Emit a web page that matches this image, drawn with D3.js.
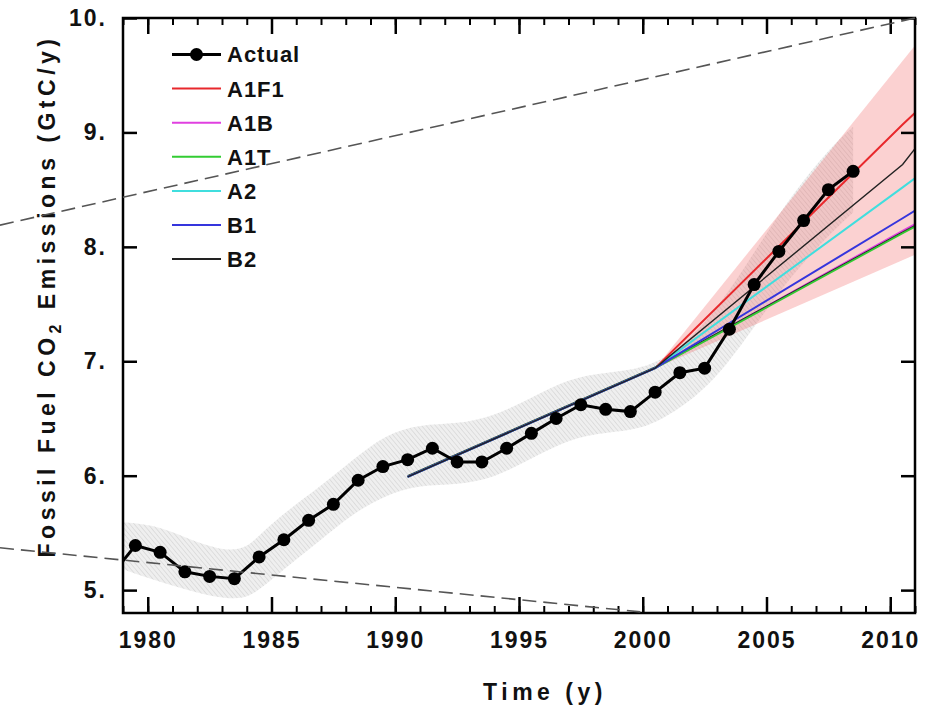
<!DOCTYPE html>
<html>
<head>
<meta charset="utf-8">
<script src="https://cdn.jsdelivr.net/npm/d3@7"></script>
<style>
body { margin: 0; background: #fff; }
text { font-family: "Liberation Sans", Arial, sans-serif; font-weight: bold; fill: #111; }
</style>
</head>
<body>
<script>
// observed emissions, plotted at mid-year
var actualYears = [1978.5, 1979.5, 1980.5, 1981.5, 1982.5, 1983.5, 1984.5, 1985.5, 1986.5, 1987.5,
    1988.5, 1989.5, 1990.5, 1991.5, 1992.5, 1993.5, 1994.5, 1995.5, 1996.5, 1997.5,
    1998.5, 1999.5, 2000.5, 2001.5, 2002.5, 2003.5, 2004.5, 2005.5, 2006.5, 2007.5, 2008.5];
var actualValues = [5.12, 5.39, 5.33, 5.16, 5.12, 5.10, 5.29, 5.44, 5.61, 5.75,
    5.96, 6.08, 6.14, 6.24, 6.12, 6.12, 6.24, 6.37, 6.50, 6.62,
    6.58, 6.56, 6.73, 6.90, 6.94, 7.28, 7.67, 7.96, 8.23, 8.50, 8.66];

// uncertainty band round the observations
var bandYears = [1978.5, 1980.2, 1981.6, 1982.9, 1983.9, 1984.5, 1985.6, 1987.0, 1988.3, 1989.6,
    1991.0, 1992.5, 1994.0, 1995.5, 1997.0, 1998.5, 2000.0, 2001.5, 2003.0, 2004.5,
    2006.0, 2007.5, 2008.5];
var bandLow = [5.22, 5.09, 5.00, 4.93, 4.92, 5.00, 5.20, 5.44, 5.67, 5.83,
    5.92, 5.92, 5.98, 6.15, 6.32, 6.38, 6.40, 6.58, 6.85, 7.30,
    7.75, 8.10, 8.30];
var bandHigh = [5.60, 5.58, 5.45, 5.35, 5.35, 5.48, 5.69, 5.91, 6.14, 6.36,
    6.45, 6.45, 6.52, 6.68, 6.85, 6.90, 6.93, 7.10, 7.45, 7.95,
    8.45, 8.85, 9.05];

// SRES scenario range
var rangeYears = [2000.5, 2011];
var rangeLow = [6.94, 7.93];
var rangeHigh = [6.94, 9.76];

var scenarioYears = [1990.5, 2000.5, 2010.5, 2020.5];
var scenarios = [
    { name: "A1F1", color: "#e8282c", width: 2, values: [5.99, 6.94, 9.07, 11.07] },
    { name: "A1B",  color: "#e040e0", width: 2, values: [5.99, 6.94, 8.14, 9.30] },
    { name: "A1T",  color: "#33cc33", width: 2, values: [5.99, 6.94, 8.12, 9.25] },
    { name: "A2",   color: "#40dede", width: 2, values: [5.99, 6.94, 8.52, 10.10] },
    { name: "B1",   color: "#3535dd", width: 2, values: [5.99, 6.94, 8.25, 9.57] },
    { name: "B2",   color: "#222222", width: 1.4, values: [5.99, 6.94, 8.72, 11.50] }
];

// the two dashed guide lines
var guideUpper = [[1974.03, 8.19], [2011, 10.0]];
var guideLower = [[1974.03, 5.37], [1999.9, 4.81]];

var majorYears = [1980, 1985, 1990, 1995, 2000, 2005, 2010];
var minorYears = d3.range(1979, 2012);
var yTicks = [5, 6, 7, 8, 9, 10];

var W = 940, H = 714;
var plot = { left: 123, right: 915, top: 18, bottom: 613 };

var x = d3.scaleLinear().domain([1979, 2011]).range([plot.left, plot.right]);
var y = d3.scaleLinear().domain([4.8, 10.0]).range([plot.bottom, plot.top]);

var svg = d3.select("body").append("svg")
    .attr("width", W)
    .attr("height", H);

var defs = svg.append("defs");
defs.append("clipPath").attr("id", "plotClip")
    .append("rect")
    .attr("x", plot.left).attr("y", plot.top)
    .attr("width", plot.right - plot.left)
    .attr("height", plot.bottom - plot.top);

var hatch = defs.append("pattern")
    .attr("id", "hatch")
    .attr("width", 3.5).attr("height", 3.5)
    .attr("patternUnits", "userSpaceOnUse")
    .attr("patternTransform", "rotate(-40)");
hatch.append("rect").attr("width", 3.5).attr("height", 3.5).attr("fill", "#efefef");
hatch.append("line")
    .attr("x1", 0).attr("y1", 0).attr("x2", 0).attr("y2", 3.5)
    .attr("stroke", "#d6d6d6").attr("stroke-width", 1.4);

var data = svg.append("g").attr("clip-path", "url(#plotClip)");

// gray band
var band = d3.area()
    .x(function(d, i) { return x(bandYears[i]); })
    .y0(function(d, i) { return y(bandLow[i]); })
    .y1(function(d, i) { return y(bandHigh[i]); })
    .curve(d3.curveBasis);
data.append("path")
    .datum(bandYears)
    .attr("d", band)
    .attr("fill", "url(#hatch)");

// pink range
var range = d3.area()
    .x(function(d, i) { return x(rangeYears[i]); })
    .y0(function(d, i) { return y(rangeLow[i]); })
    .y1(function(d, i) { return y(rangeHigh[i]); });
data.append("path")
    .datum(rangeYears)
    .attr("d", range)
    .attr("fill", "rgb(240,90,90)")
    .attr("fill-opacity", 0.28);

var line = d3.line()
    .x(function(d) { return x(d[0]); })
    .y(function(d) { return y(d[1]); });

scenarios.forEach(function(s) {
    var pts = scenarioYears.map(function(yr, i) { return [yr, s.values[i]]; });
    data.append("path")
        .datum(pts)
        .attr("d", line)
        .attr("fill", "none")
        .attr("stroke", s.color)
        .attr("stroke-width", s.width);
    if (s.name == "A1T") {
        // dark edge seen along the A1T line
        data.append("path")
            .datum(pts)
            .attr("d", line)
            .attr("transform", "translate(0,-1.3)")
            .attr("fill", "none")
            .attr("stroke", "#163016")
            .attr("stroke-width", 0.9);
    }
});

var actualPts = actualYears.map(function(yr, i) { return [yr, actualValues[i]]; });
data.append("path")
    .datum(actualPts)
    .attr("d", line)
    .attr("fill", "none")
    .attr("stroke", "#000")
    .attr("stroke-width", 3);
data.selectAll("circle.actual").data(actualPts)
    .enter().append("circle")
    .attr("class", "actual")
    .attr("cx", function(d) { return x(d[0]); })
    .attr("cy", function(d) { return y(d[1]); })
    .attr("r", 6.5)
    .attr("fill", "#000");

// axes, ticks pointing inward
function styleAxis(g, w) {
    g.select(".domain").remove();
    g.selectAll(".tick line").attr("stroke", "#000").attr("stroke-width", w);
    g.selectAll(".tick text")
        .style("font-size", "23px")
        .style("letter-spacing", "2px")
        .attr("fill", "#111");
}

svg.append("g")
    .attr("transform", "translate(0," + plot.bottom + ")")
    .call(d3.axisBottom(x).tickValues(minorYears).tickSize(-7).tickFormat(""))
    .call(styleAxis, 2);
svg.append("g")
    .attr("transform", "translate(0," + plot.bottom + ")")
    .call(d3.axisBottom(x).tickValues(majorYears).tickSize(-16).tickPadding(19).tickFormat(d3.format("d")))
    .call(styleAxis, 2.5);
svg.append("g")
    .attr("transform", "translate(0," + plot.top + ")")
    .call(d3.axisTop(x).tickValues(minorYears).tickSize(-7).tickFormat(""))
    .call(styleAxis, 2);
svg.append("g")
    .attr("transform", "translate(0," + plot.top + ")")
    .call(d3.axisTop(x).tickValues(majorYears).tickSize(-16).tickFormat(""))
    .call(styleAxis, 2.5);
svg.append("g")
    .attr("transform", "translate(" + plot.left + ",0)")
    .call(d3.axisLeft(y).tickValues(yTicks).tickSize(-14).tickPadding(16).tickFormat(function(d) { return d + "."; }))
    .call(styleAxis, 2.5);
svg.append("g")
    .attr("transform", "translate(" + plot.right + ",0)")
    .call(d3.axisRight(y).tickValues(yTicks).tickSize(-14).tickFormat(""))
    .call(styleAxis, 2.5);

svg.append("rect")
    .attr("x", plot.left).attr("y", plot.top)
    .attr("width", plot.right - plot.left)
    .attr("height", plot.bottom - plot.top)
    .attr("fill", "none")
    .attr("stroke", "#000")
    .attr("stroke-width", 2.5);

// axis titles
svg.append("text")
    .attr("x", 545).attr("y", 700)
    .attr("text-anchor", "middle")
    .style("font-size", "23px")
    .style("letter-spacing", "4.5px")
    .text("Time (y)");

var yTitle = svg.append("text")
    .attr("transform", "translate(55,296) rotate(-90)")
    .attr("text-anchor", "middle")
    .style("font-size", "23px")
    .style("letter-spacing", "4.5px");
yTitle.append("tspan").text("Fossil Fuel CO");
yTitle.append("tspan").attr("dy", 6).style("font-size", "16px").text("2");
yTitle.append("tspan").attr("dy", -6).text(" Emissions (GtC/y)");

// legend
var legendItems = [{ name: "Actual", color: "#000", width: 3 }].concat(scenarios);
var legend = svg.append("g");
legendItems.forEach(function(d, i) {
    var ly = 54.5 + i * 34.1;
    legend.append("line")
        .attr("x1", 172).attr("x2", 221)
        .attr("y1", ly).attr("y2", ly)
        .attr("stroke", d.color)
        .attr("stroke-width", d.name == "Actual" ? 3 : 2);
    if (d.name == "Actual") {
        legend.append("circle").attr("cx", 196.5).attr("cy", ly).attr("r", 6.5).attr("fill", "#000");
    }
    legend.append("text")
        .attr("x", 227).attr("y", ly)
        .attr("dy", "0.36em")
        .style("font-size", "22px")
        .style("letter-spacing", "1px")
        .text(d.name);
});

// dashed guide lines, drawn over everything
[guideUpper, guideLower].forEach(function(g) {
    svg.append("path")
        .datum(g)
        .attr("d", line)
        .attr("fill", "none")
        .attr("stroke", "#555")
        .attr("stroke-width", 1.6)
        .attr("stroke-dasharray", "14,7");
});
</script>
</body>
</html>
